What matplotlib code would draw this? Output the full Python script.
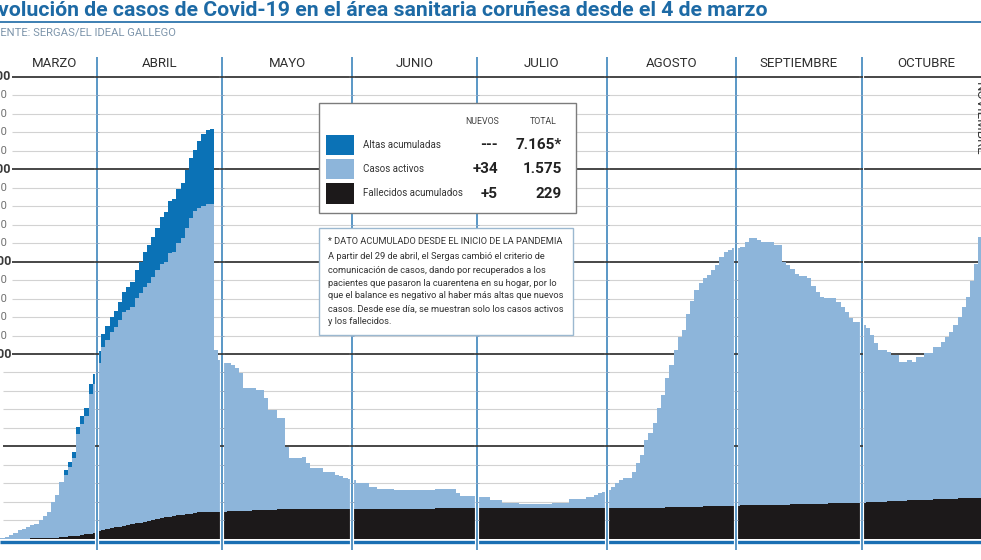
import matplotlib
matplotlib.use("Agg")
import matplotlib.pyplot as plt
import matplotlib.transforms as mtransforms
import matplotlib.patheffects as pe
from matplotlib.patches import Rectangle
import numpy as np
import pandas as pd

# ---------------- data ----------------
start_date = "2020-03-04"

active_mar = [1, 2, 3, 4, 5, 6, 10, 18, 28, 45, 54, 63, 70, 80, 97, 122, 141, 194, 229, 299,
              335, 377, 424, 552, 603, 641, 758, 806]
active_apr = [907, 989, 1022, 1060, 1082, 1116, 1155, 1162, 1174, 1223, 1246, 1269, 1286, 1314,
              1347, 1379, 1380, 1426, 1427, 1473, 1497, 1553, 1603, 1637, 1650, 1660, 1670, 1670,
              874, 820]
active_may = [802, 801, 790, 773, 745, 663, 662, 661, 649, 648, 604, 538, 537, 493, 492, 334,
              274, 274, 273, 279, 246, 219, 219, 218, 197, 197, 197, 181, 175, 164, 159]
active_jun = [153, 137, 137, 136, 116, 116, 105, 105, 104, 105, 99, 99, 100, 99, 98, 99, 100, 99,
              99, 98, 105, 105, 106, 105, 104, 83, 67, 67, 66, 66]
active_jul = [62, 62, 61, 45, 45, 44, 29, 29, 28, 29, 23, 22, 24, 23, 22, 23, 24, 23, 28, 28, 29,
              28, 50, 50, 51, 50, 61, 61, 70, 80, 90]
active_aug = [98, 115, 136, 151, 162, 162, 195, 242, 286, 367, 404, 458, 538, 608, 699, 770, 850,
              920, 957, 1044, 1113, 1171, 1208, 1234, 1251, 1277, 1304, 1346, 1373, 1383, 1394]
active_sep = [1393, 1397, 1424, 1445, 1445, 1433, 1427, 1421, 1421, 1404, 1404, 1311, 1295, 1277,
              1245, 1233, 1233, 1221, 1183, 1145, 1117, 1111, 1110, 1110, 1088, 1060, 1032, 1000,
              977, 977]
active_oct = [959, 942, 903, 859, 820, 819, 807, 790, 789, 750, 749, 759, 747, 773, 772, 793, 792,
              823, 823, 849, 875, 901, 938, 980, 1033, 1087, 1177, 1268, 1408]

deaths_mar = [0, 0, 0, 0, 0, 0, 0, 0, 1, 1, 1, 1, 2, 2, 3, 3, 4, 5, 6, 8, 10, 12, 14, 17, 20, 24,
              28, 32]
deaths_apr = [42, 47, 52, 57, 62, 66, 70, 74, 78, 83, 87, 92, 96, 101, 106, 111, 116, 119, 123,
              126, 129, 132, 136, 140, 143, 144, 145, 145, 146, 146]
deaths_may = [147, 148, 149, 149, 150, 151, 152, 153, 154, 155, 156, 157, 158, 159, 160, 161, 161,
              161, 162, 162, 162, 162, 162, 163, 163, 163, 163, 163, 163, 163, 163]
deaths_jun = [163, 163, 163, 163, 163, 163, 163, 163, 163, 163, 163, 163, 163, 163, 163, 163, 163,
              163, 163, 163, 164, 164, 164, 164, 164, 164, 164, 164, 164, 164]
deaths_jul = [164, 164, 164, 164, 164, 164, 164, 164, 164, 164, 164, 164, 164, 164, 164, 165, 165,
              165, 165, 165, 165, 165, 165, 165, 165, 165, 165, 165, 165, 165, 165]
deaths_aug = [165, 165, 165, 165, 165, 165, 166, 166, 166, 167, 167, 167, 168, 168, 169, 169, 170,
              170, 171, 171, 172, 173, 174, 175, 175, 176, 176, 177, 177, 178, 178]
deaths_sep = [179, 180, 180, 181, 181, 182, 182, 183, 183, 184, 184, 185, 185, 186, 186, 187, 187,
              188, 188, 189, 190, 190, 191, 191, 192, 192, 193, 193, 194, 194]
deaths_oct = [196, 197, 198, 199, 200, 201, 202, 203, 204, 205, 206, 207, 208, 209, 210, 211, 212,
              213, 213, 214, 215, 216, 217, 218, 219, 220, 221, 222, 223]

# cumulative discharges, shown only until 28 April
altas_mar = [0, 0, 0, 0, 0, 0, 0, 0, 0, 0, 0, 0, 0, 0, 0, 0, 0, 0, 0, 0,
             25, 27, 32, 36, 42, 45, 54, 56]
altas_apr = [70, 72, 76, 82, 90, 98, 110, 125, 140, 150, 165, 190, 210, 218, 230, 250, 275, 285,
             292, 296, 300, 310, 320, 330, 360, 385, 400, 406]

months = ["MARZO", "ABRIL", "MAYO", "JUNIO", "JULIO", "AGOSTO", "SEPTIEMBRE", "OCTUBRE"]
month_starts = ["2020-03-01", "2020-04-01", "2020-05-01", "2020-06-01", "2020-07-01",
                "2020-08-01", "2020-09-01", "2020-10-01", "2020-11-01"]

legend_labels = ["Altas acumuladas", "Casos activos", "Fallecidos acumulados"]
legend_new = ["---", "+34", "+5"]
legend_total = ["7.165*", "1.575", "229"]

title = "Evolución de casos de Covid-19 en el área sanitaria coruñesa desde el 4 de marzo"
source = "FUENTE: SERGAS/EL IDEAL GALLEGO"
note_head = "* DATO ACUMULADO DESDE EL INICIO DE LA PANDEMIA"
note_lines = ["A partir del 29 de abril, el Sergas cambió el criterio de",
              "comunicación de casos, dando por recuperados a los",
              "pacientes que pasaron la cuarentena en su hogar, por lo",
              "que el balance es negativo al haber más altas que nuevos",
              "casos. Desde ese día, se muestran solo los casos activos",
              "y los fallecidos."]

y_ticks = list(range(0, 2600, 100))

# ---------------- layout ----------------
W, H, DPI = 981, 560, 100
PX_DAY = 4.1776      # pixels per day
X_OFF = -32.5        # pixel position of 1 March
ZERO_PX = 538.7      # pixel row of value 0
PX_UNIT = 0.18468    # pixels per case

C_DARK = "#0b72b6"
C_LIGHT = "#8db5da"
C_BLACK = "#1c191a"
C_MONTH = "#2c7ab7"
C_TITLE = "#1d6aa5"
FONT = "Roboto"

active = np.array(active_mar + active_apr + active_may + active_jun + active_jul +
                  active_aug + active_sep + active_oct, dtype=float)
deaths = np.array(deaths_mar + deaths_apr + deaths_may + deaths_jun + deaths_jul +
                  deaths_aug + deaths_sep + deaths_oct, dtype=float)
altas = np.array(altas_mar + altas_apr, dtype=float)

origin = pd.Timestamp("2020-03-01")
dates = pd.date_range(start_date, periods=len(active), freq="D")
xday = np.array((dates - origin).days, dtype=float)
edges = np.append(xday, xday[-1] + 1)
mstart = np.array((pd.to_datetime(month_starts) - origin).days, dtype=float)

fig = plt.figure(figsize=(W / DPI, H / DPI), dpi=DPI)
fig.patch.set_facecolor("white")
ax = fig.add_axes([0, 0, 1, 1])
ax.set_xlim(-X_OFF / PX_DAY, (W - X_OFF) / PX_DAY)
ax.set_ylim(-(H - ZERO_PX) / PX_UNIT, ZERO_PX / PX_UNIT)
ax.axis("off")


def fx(px):
    return px / W


def fy(py):
    return 1 - py / H


tr_xa_yd = mtransforms.blended_transform_factory(ax.transAxes, ax.transData)
tr_xd_ya = mtransforms.blended_transform_factory(ax.transData, ax.transAxes)
renderer = fig.canvas.get_renderer()


def fit(t, width_px):
    w = t.get_window_extent(renderer).width
    t.set_fontsize(t.get_fontsize() * width_px / w)


# grid + (cropped) y labels
for v in y_ticks[1:]:
    heavy = v % 500 == 0
    xs = 12 if v >= 1000 else 3
    ax.plot([fx(xs), 1], [v, v], transform=tr_xa_yd,
            color="#383838" if heavy else "#d2d2d2",
            lw=1.3 if heavy else 0.8, zorder=1, solid_capstyle="butt")
    if v >= 1000:
        ax.text(fx(-21), v, f"{v:,}".replace(",", "."), transform=tr_xa_yd, ha="left",
                va="center", fontsize=9 if heavy else 8, family=FONT,
                fontweight="bold" if heavy else "normal",
                color="#3a3a3a" if heavy else "#707070", zorder=1)

# stacked daily columns
ax.stairs(deaths, edges, baseline=0, fill=True, color=C_BLACK, zorder=2)
ax.stairs(deaths + active, edges, baseline=deaths, fill=True, color=C_LIGHT, zorder=2)
n = len(altas)
base_a = deaths[:n] + active[:n]
ax.stairs(base_a + altas, edges[:n + 1], baseline=base_a, fill=True, color=C_DARK, zorder=2)

# baseline
ax.plot([0, 1], [fy(542.3), fy(542.3)], transform=ax.transAxes, color="#1a6fb3",
        lw=2.4, zorder=4, solid_capstyle="butt")

# month separators with small grid marks
for d in mstart[1:]:
    ax.plot([d, d], [fy(57), fy(550)], transform=tr_xd_ya, color=C_MONTH, lw=1.1,
            zorder=5, solid_capstyle="butt",
            path_effects=[pe.Stroke(linewidth=3.0, foreground="white"), pe.Normal()])
    for v in y_ticks[1:]:
        heavy = v % 500 == 0
        ax.plot([d - 0.45, d + 0.45], [v, v], color="#333333" if heavy else "#8aa6c2",
                lw=1.2 if heavy else 0.7, zorder=6, solid_capstyle="butt")

# month labels
xl = ax.get_xlim()[0]
for i, name in enumerate(months):
    a = max(mstart[i], xl + 3)
    c = (a + mstart[i + 1]) / 2
    ax.text(c, fy(63.5), name, transform=tr_xd_ya, ha="center", va="center",
            fontsize=9.5, family=FONT, color="#2f2f2f", zorder=6)
ax.text(fx(979.5), fy(82), "NOVIEMBRE", transform=ax.transAxes, rotation=270,
        ha="center", va="top", fontsize=9.5, family=FONT, color="#3a3a3a", zorder=6)

# title + source
t = ax.text(fx(768), fy(11), title, transform=ax.transAxes, ha="right", va="center",
            fontsize=14, fontweight="bold", family=FONT, color=C_TITLE, zorder=6)
fit(t, 785)
ax.plot([0, 1], [fy(21.5), fy(21.5)], transform=ax.transAxes, color=C_TITLE, lw=1.2,
        zorder=6)
s = ax.text(fx(176), fy(33), source, transform=ax.transAxes, ha="right", va="center",
            fontsize=7.5, family=FONT, color="#7d95ab", zorder=6)
fit(s, 188)

# legend box
ax.add_patch(Rectangle((fx(319), fy(213)), fx(576) - fx(319), fy(103) - fy(213),
                       transform=ax.transAxes, facecolor="white", edgecolor="#7c7c7c",
                       lw=1.0, zorder=10))
hn = ax.text(fx(499), fy(121), "NUEVOS", transform=ax.transAxes, ha="right", va="center",
             fontsize=6, family=FONT, color="#444444", zorder=11)
fit(hn, 34)
ht = ax.text(fx(557), fy(121), "TOTAL", transform=ax.transAxes, ha="right", va="center",
             fontsize=6, family=FONT, color="#444444", zorder=11)
ht.set_fontsize(hn.get_fontsize())
rows = [(135, 155), (159, 179), (183, 204)]
colors = [C_DARK, C_LIGHT, C_BLACK]
for (y0, y1), col, lab, nv, tv in zip(rows, colors, legend_labels, legend_new, legend_total):
    ax.add_patch(Rectangle((fx(326), fy(y1)), fx(354) - fx(326), fy(y0) - fy(y1),
                           transform=ax.transAxes, facecolor=col, edgecolor="none", zorder=11))
    yc = (y0 + y1) / 2
    ax.text(fx(363), fy(yc), lab, transform=ax.transAxes, ha="left", va="center",
            fontsize=7, family=FONT, color="#333333", zorder=11)
    ax.text(fx(498), fy(yc), nv, transform=ax.transAxes, ha="right", va="center",
            fontsize=11, fontweight="bold", family=FONT, color="#222222", zorder=11)
    ax.text(fx(562), fy(yc), tv, transform=ax.transAxes, ha="right", va="center",
            fontsize=11, fontweight="bold", family=FONT, color="#222222", zorder=11)

# note box
ax.add_patch(Rectangle((fx(319), fy(335)), fx(573) - fx(319), fy(228) - fy(335),
                       transform=ax.transAxes, facecolor="white", edgecolor="#9bb8d0",
                       lw=1.0, zorder=10))
h = ax.text(fx(328), fy(242), note_head, transform=ax.transAxes, ha="left", va="center",
            fontsize=6.5, family=FONT, color="#333333", zorder=11)
fit(h, 234)
note_texts = []
for i, line in enumerate(note_lines):
    tt = ax.text(fx(328), fy(257 + 13 * i), line, transform=ax.transAxes, ha="left",
                 va="center", fontsize=6.5, family=FONT, color="#333333", zorder=11)
    note_texts.append(tt)
w = note_texts[3].get_window_extent(renderer).width
for tt in note_texts:
    tt.set_fontsize(tt.get_fontsize() * 234 / w)

fig.savefig("out.png", dpi=DPI, facecolor="white")
